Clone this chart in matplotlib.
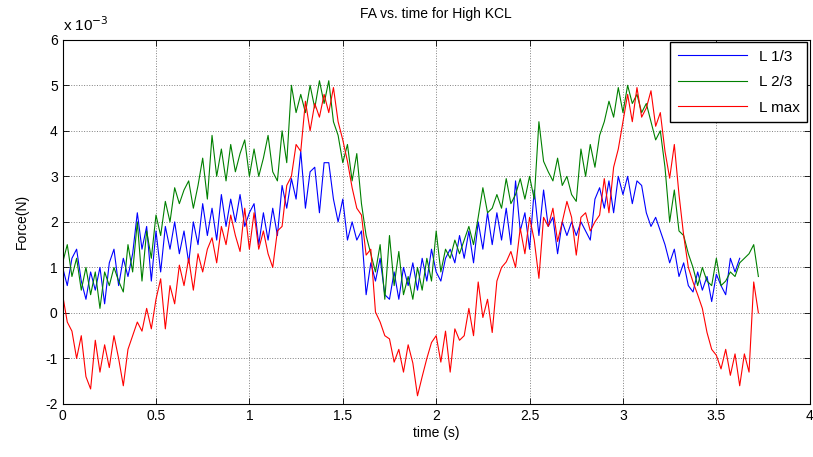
"""FA vs. time for High KCL - recreated from the MATLAB figure."""
import matplotlib
import numpy as np

matplotlib.use("Agg")
import matplotlib.pyplot as plt  # noqa: E402

plt.rcParams["font.family"] = ["Liberation Sans", "DejaVu Sans"]

# --- Data (units of 1e-3 N), sampled every DT seconds ---
DT = 0.025

L_13 = [
    1.0, 0.6, 1.2, 1.4, 0.7, 0.3, 0.9, 0.5, 1.0, 0.2,
    1.1, 1.4, 0.6, 1.2, 0.8, 1.3, 2.2, 1.4, 1.9, 0.7,
    1.8, 0.9, 1.9, 1.4, 2.0, 1.3, 1.8, 1.1, 2.0, 1.5,
    2.4, 1.7, 2.3, 1.6, 2.6, 1.9, 2.5, 2.0, 2.6, 1.9,
    2.2, 2.4, 1.5, 2.2, 1.6, 2.3, 1.7, 2.8, 2.3, 2.95,
    2.5, 3.55, 2.3, 3.1, 3.2, 2.2, 3.3, 3.3, 2.5, 2.0,
    2.5, 1.6, 2.0, 1.6, 1.8, 0.4, 1.1, 0.7, 1.2, 0.4,
    0.3, 0.9, 0.3, 1.0, 0.6, 1.1, 0.5, 1.2, 0.7, 1.4,
    0.9, 0.7, 1.2, 1.4, 1.1, 1.7, 1.2, 1.8, 1.1, 2.0,
    1.4, 2.2, 1.5, 2.2, 1.6, 2.3, 1.5, 2.9, 1.8, 2.2,
    1.4, 2.7, 1.7, 2.7, 1.9, 2.1, 1.3, 2.0, 1.7, 2.0,
    1.7, 2.0, 1.8, 1.6, 2.5, 2.75, 2.3, 2.9, 2.2, 3.0,
    2.6, 3.0, 2.4, 2.9, 2.8, 2.2, 1.9, 2.1, 1.8, 1.5,
    1.1, 1.4, 0.8, 1.1, 0.6, 0.46, 0.9, 0.5, 0.8, 0.25,
    0.85, 0.6, 0.4, 1.2, 0.9, 1.2,
]

L_23 = [
    1.1, 1.5, 0.8, 1.2, 0.5, 1.0, 0.4, 0.9, 0.1, 0.9,
    0.6, 1.0, 0.7, 0.46, 1.5, 0.9, 2.0, 0.7, 1.8, 1.2,
    2.15, 1.7, 2.45, 2.0, 2.75, 2.4, 2.7, 2.9, 2.3, 2.8,
    3.4, 2.5, 3.9, 3.0, 3.6, 2.9, 3.7, 3.1, 3.5, 3.8,
    3.0, 3.6, 3.0, 3.4, 3.9, 3.1, 2.9, 4.0, 3.3, 5.0,
    4.4, 4.8, 4.4, 5.0, 4.5, 5.1, 4.6, 5.1, 4.2, 3.9,
    3.3, 3.7, 2.9, 3.5, 2.4, 1.7, 1.3, 0.9, 1.5, 0.3,
    1.7, 0.6, 1.35, 0.4, 0.8, 0.3, 1.0, 0.5, 1.2, 0.7,
    1.8, 0.9, 1.4, 1.2, 1.6, 1.3, 1.6, 1.9, 1.5, 2.1,
    2.75, 2.2, 2.3, 2.6, 2.3, 2.95, 2.4, 2.6, 2.95, 2.5,
    3.0, 2.5, 4.2, 3.33, 3.1, 2.9, 3.4, 2.8, 3.0, 2.6,
    2.45, 3.6, 3.0, 3.7, 3.2, 3.9, 4.2, 4.65, 4.3, 4.95,
    4.4, 5.0, 4.6, 4.8, 4.4, 4.6, 4.2, 3.8, 4.0, 3.2,
    2.0, 2.7, 1.8, 1.7, 1.3, 1.0, 0.6, 1.0, 0.7, 0.6,
    1.2, 0.6, 0.7, 0.9, 0.8, 1.1, 1.2, 1.3, 1.5, 0.8,
]

L_MAX = [
    0.4, -0.2, -0.4, -1.0, -0.5, -1.4, -1.67, -0.6, -1.3, -0.7,
    -1.2, -0.5, -1.0, -1.6, -0.8, -0.5, -0.2, -0.4, 0.1, -0.35,
    0.3, 0.75, -0.35, 0.6, 0.2, 1.05, 0.6, 1.2, 0.5, 1.3,
    0.9, 1.4, 1.65, 1.1, 1.9, 1.5, 2.15, 1.7, 1.35, 2.3,
    1.4, 2.2, 1.4, 1.8, 1.3, 1.0, 1.8, 1.9, 2.8, 3.0,
    3.7, 3.55, 4.65, 4.0, 4.6, 4.3, 4.8, 4.4, 4.95, 4.2,
    3.8, 3.33, 2.75, 2.3, 2.15, 1.27, 1.4, 0.02, -0.2, -0.5,
    -0.57, -1.08, -0.8, -1.3, -0.7, -1.1, -1.82, -1.4, -1.0, -0.65,
    -0.5, -1.08, -0.4, -1.3, -0.35, -0.6, -0.5, 0.1, -0.5, 0.68,
    -0.1, 0.3, -0.43, 0.7, 1.0, 1.12, 1.35, 1.0, 1.86, 1.3,
    2.1, 1.6, 0.76, 2.1, 1.9, 2.3, 1.57, 2.0, 2.45, 2.1,
    1.27, 2.1, 2.2, 1.8, 2.0, 2.15, 2.95, 2.2, 3.2, 3.6,
    4.2, 4.8, 4.2, 4.95, 4.3, 4.5, 4.88, 4.1, 4.4, 3.55,
    2.96, 3.7, 2.6, 1.7, 1.0, 0.68, 0.4, 0.1, -0.43, -0.8,
    -0.93, -1.23, -0.8, -1.37, -0.9, -1.6, -0.9, -1.3, 0.68, 0.0,
]

SERIES = [("L 1/3", L_13, "#0000ff"), ("L 2/3", L_23, "#008000"), ("L max", L_MAX, "#ff0000")]

fig = plt.figure(figsize=(8.13, 4.57), dpi=100)
ax = fig.add_axes([0.077, 0.116, 0.919, 0.797])

for nombre, valores, color in SERIES:
    t = np.arange(len(valores)) * DT
    ax.plot(t, np.array(valores) * 1e-3, color=color, linewidth=0.8, label=nombre)

ax.set_xlim(0, 4)
ax.set_ylim(-2e-3, 6e-3)
ax.set_xticks(np.arange(0, 4.01, 0.5))
ax.set_xticklabels(["0", "0.5", "1", "1.5", "2", "2.5", "3", "3.5", "4"])
ax.set_yticks(np.arange(-2, 7) * 1e-3)
ax.set_yticklabels([str(v) for v in range(-2, 7)])
ax.tick_params(direction="in", top=True, right=True, labelsize=10, length=4, width=0.6)
ax.grid(True, linestyle=":", color="#808080", linewidth=0.7)
for lado in ax.spines.values():
    lado.set_linewidth(0.8)

ax.set_xlabel("time (s)", fontsize=10, labelpad=2)
ax.set_ylabel("Force(N)", fontsize=10, labelpad=12)
ax.set_title("FA vs. time for High KCL", fontsize=10, pad=16)
ax.text(0.0, 1.015, "x 10$^{-3}$", transform=ax.transAxes, fontsize=11, va="bottom")

ax.legend(loc="upper right", fontsize=11, frameon=True, fancybox=False,
          edgecolor="black", framealpha=1, handlelength=4.5, borderaxespad=0.15,
          labelspacing=0.75, borderpad=0.5)

fig.savefig("out.png", dpi=100)
